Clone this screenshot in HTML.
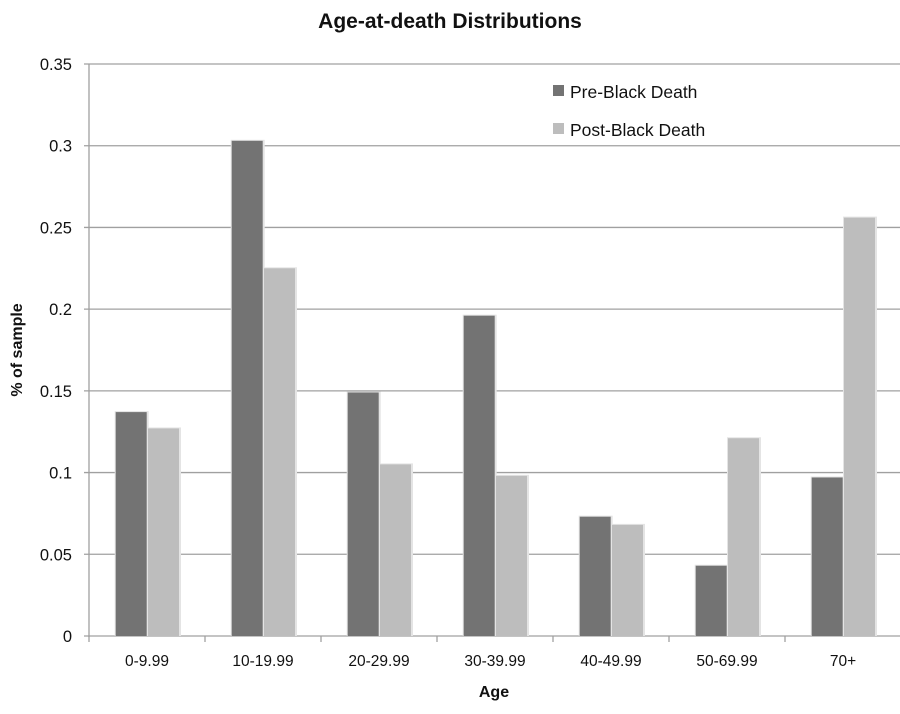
<!DOCTYPE html>
<html><head><meta charset="utf-8"><style>
body{margin:0;background:#fff}
svg text{font-family:"Liberation Sans",sans-serif}
</style></head><body>
<svg id="chart" width="900" height="709" xmlns="http://www.w3.org/2000/svg">
<text x="450" y="28" text-anchor="middle" font-size="21" font-weight="bold" fill="#111">Age-at-death Distributions</text>
<text transform="translate(22,350) rotate(-90)" text-anchor="middle" font-size="16" font-weight="bold" fill="#111">% of sample</text>
<text x="494" y="697" text-anchor="middle" font-size="16" font-weight="bold" fill="#111">Age</text>
<g id="grid"></g><g id="bars"></g><g id="axes"></g>
<g>
<rect x="553" y="85" width="11" height="11" fill="#737373"/>
<text x="570" y="98" font-size="17.5" fill="#111">Pre-Black Death</text>
<rect x="553" y="123" width="11" height="11" fill="#bdbdbd"/>
<text x="570" y="136" font-size="17.5" fill="#111">Post-Black Death</text>
</g>
</svg>
<script>
const categories=["0-9.99","10-19.99","20-29.99","30-39.99","40-49.99","50-69.99","70+"];
const preValues=[0.137,0.303,0.149,0.196,0.073,0.043,0.097];
const postValues=[0.127,0.225,0.105,0.098,0.068,0.121,0.256];
const yTicks=[0,0.05,0.1,0.15,0.2,0.25,0.3,0.35];
const yTickLabels=["0","0.05","0.1","0.15","0.2","0.25","0.3","0.35"];
const NS="http://www.w3.org/2000/svg";
const x0=89,x1=900,y0=636,yTop=64,yMax=0.35,catW=116;
const y=v=>y0-(v/yMax)*(y0-yTop);
const xc=i=>x0+catW*i;
function mk(t,a,p){const e=document.createElementNS(NS,t);for(const k in a)e.setAttribute(k,a[k]);p.appendChild(e);return e;}
const grid=document.getElementById('grid'),bars=document.getElementById('bars'),axes=document.getElementById('axes');
yTicks.forEach((v,i)=>{
 const l=mk('line',{x1:84,x2:x1,y1:y(v),y2:y(v),stroke:'#a0a0a0','stroke-width':1.3},grid);
 
 
 const t=mk('text',{x:72,y:y(v)+6,'text-anchor':'end','font-size':16.5,fill:'#111'},axes);
 t.textContent=yTickLabels[i];
 
 
});
const ax=mk('line',{x1:x0,x2:x0,y1:yTop,y2:y0+1,stroke:'#a0a0a0','stroke-width':1.3},axes);


for(let i=0;i<=categories.length;i++){
 const tk=mk('line',{x1:xc(i),x2:xc(i),y1:y0,y2:y0+6,stroke:'#a0a0a0','stroke-width':1.3},axes);
 
 
}
categories.forEach((c,i)=>{
 const t=mk('text',{x:xc(i)+catW/2,y:y0+30,'text-anchor':'middle','font-size':15.5,fill:'#111'},axes);
 t.textContent=c;
 
 
 [[preValues[i],'#737373',26.7,'bar-pre'],[postValues[i],'#bdbdbd',59,'bar-post']].forEach(([v,col,off,nm])=>{
  const s=mk('rect',{x:xc(i)+off-1,y:y(v)-1,width:34,height:y0-y(v)+1,fill:'#e4e4e4'},bars);
  
  
  const r=mk('rect',{x:xc(i)+off,y:y(v),width:31,height:y0-y(v),fill:col},bars);
  
  
 });
});
</script>
</body></html>
